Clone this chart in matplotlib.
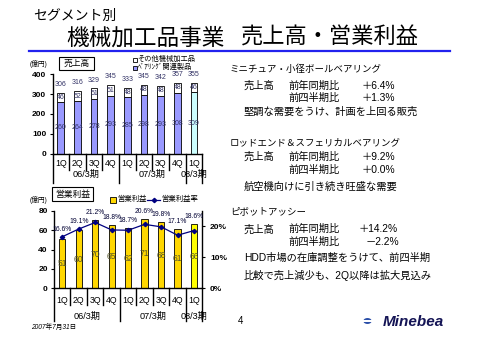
import numpy as np
import matplotlib
matplotlib.use('Agg')
import matplotlib.pyplot as plt
import matplotlib.transforms as mtransforms
from matplotlib.patches import Rectangle, Circle
from matplotlib.lines import Line2D

plt.rcParams['font.family'] = ['Liberation Sans', 'Noto Sans CJK JP']

# ---------------- data ----------------
quarters = ['1Q', '2Q', '3Q', '4Q', '1Q', '2Q', '3Q', '4Q', '1Q']
periods = ['06/3期', '07/3期', '08/3期']
period_pos = [1.5, 5.5, 8.0]
bearing_sales = [260, 264, 278, 293, 285, 298, 293, 308, 309]
other_sales = [46, 52, 51, 51, 48, 48, 48, 48, 46]
total_sales = [306, 316, 329, 345, 333, 345, 342, 357, 355]
op_income = [51, 60, 70, 65, 62, 71, 68, 61, 66]
op_margin = [16.6, 19.1, 21.2, 18.8, 18.7, 20.6, 19.8, 17.1, 18.6]
sales_ticks = [0, 100, 200, 300, 400]
income_ticks = [0, 20, 40, 60, 80]
margin_ticks = [0, 10, 20]

W, H = 480, 340
fig = plt.figure(figsize=(4.8, 3.4), dpi=100)
fig.patch.set_facecolor('white')


def fx(x):
    return x / W


def fy(y):
    return 1 - y / H


def ftext(x, y, s, **kw):
    kw.setdefault('va', 'center')
    kw.setdefault('ha', 'left')
    fig.text(fx(x), fy(y), s, **kw)


x = np.arange(len(quarters))

# ---------------- top chart: sales ----------------
t_left, t_right, t_top, t_bot = 52.5, 202.3, 74.3, 153.7
ax1 = fig.add_axes([fx(t_left), fy(t_bot), (t_right - t_left) / W, (t_bot - t_top) / H])
bear_colors = ['#9999FF'] * 8 + ['#CCFFFF']
ax1.bar(x, bearing_sales, width=0.4, color=bear_colors, edgecolor='black', lw=0.6, zorder=2)
ax1.bar(x, other_sales, bottom=bearing_sales, width=0.4, color='white', edgecolor='black',
        lw=0.6, zorder=2)
for i in range(len(x)):
    ax1.text(x[i], bearing_sales[i] / 2, str(bearing_sales[i]), ha='center', va='center',
             fontsize=5, color='#333366', zorder=3)
    ax1.text(x[i], bearing_sales[i] + other_sales[i] / 2, str(other_sales[i]), ha='center',
             va='center', fontsize=5, color='#333366', zorder=3)
    ax1.annotate(str(total_sales[i]), (x[i], total_sales[i]), xytext=(0, 6),
                 textcoords='offset points', ha='center', va='center', fontsize=5,
                 color='#333366')
ax1.set_xlim(-0.5, len(x) - 0.5)
ax1.set_ylim(0, 400)
ax1.set_yticks(sales_ticks)
ax1.set_xticks([])
ax1.tick_params(axis='y', length=2.5, width=0.8, pad=2, labelsize=6)
for lbl in ax1.get_yticklabels():
    lbl.set_fontweight('bold')
for s in ['top', 'right']:
    ax1.spines[s].set_visible(False)
for s in ['left', 'bottom']:
    ax1.spines[s].set_linewidth(1.0)

# ---------------- bottom chart: operating income ----------------
b_left, b_right, b_top, b_bot = 54.0, 202.3, 210.7, 288.3
ax2 = fig.add_axes([fx(b_left), fy(b_bot), (b_right - b_left) / W, (b_bot - b_top) / H])
inc_colors = ['#FFD700'] * 8 + ['#FFFF00']
ax2.bar(x, op_income, width=0.38, color=inc_colors, edgecolor='black', lw=0.6, zorder=2)
for i in range(len(x)):
    ax2.text(x[i], op_income[i] / 2, str(op_income[i]), ha='center', va='center',
             fontsize=6.2, color='#55552B', zorder=3)
ax2.set_xlim(-0.5, len(x) - 0.5)
ax2.set_ylim(0, 80)
ax2.set_yticks(income_ticks)
ax2.set_xticks([])
ax2.tick_params(axis='y', length=2.5, width=0.8, pad=2, labelsize=6)
for lbl in ax2.get_yticklabels():
    lbl.set_fontweight('bold')
for s in ['top', 'right']:
    ax2.spines[s].set_visible(False)
for s in ['left', 'bottom']:
    ax2.spines[s].set_linewidth(1.0)

ax2r = ax2.twinx()
ax2r.set_ylim(0, 25)
ax2r.plot(x, op_margin, color='#000080', lw=0.9, marker='D', ms=2.2, zorder=4)
ax2r.set_yticks(margin_ticks)
ax2r.set_yticklabels([f'{t}%' for t in margin_ticks])
ax2r.tick_params(axis='y', length=2.5, width=0.8, pad=3, labelsize=6)
for lbl in ax2r.get_yticklabels():
    lbl.set_fontweight('bold')
for s in ['top', 'left', 'bottom']:
    ax2r.spines[s].set_visible(False)
ax2r.spines['right'].set_linewidth(1.0)
scale = ax2.get_ylim()[1] / ax2r.get_ylim()[1]
for i in range(len(x)):
    ytop = max(op_income[i], op_margin[i] * scale)
    ax2r.annotate(f'{op_margin[i]:.1f}%', (x[i], ytop / scale), xytext=(0, 5.5),
                  textcoords='offset points', ha='center', va='center', fontsize=4.9,
                  color='#000033')


# ---------------- category tables ----------------
def draw_table(ax, h_px, inner_px, group_px, row1_px, row2_px):
    tr = mtransforms.blended_transform_factory(ax.transData, ax.transAxes)
    n = len(quarters)
    groups = [-0.5, 3.5, 7.5, n - 0.5]
    for b in np.arange(-0.5, n, 1.0):
        depth = group_px if b in groups else inner_px
        ax.add_line(Line2D([b, b], [0, -depth / h_px], transform=tr, color='black',
                           lw=1.0, clip_on=False))
    for i, q in enumerate(quarters):
        ax.text(i, -row1_px / h_px, q, transform=tr, ha='center', va='center',
                fontsize=6.3)
    for p, pos in zip(periods, period_pos):
        ax.text(pos, -row2_px / h_px, p, transform=tr, ha='center', va='center',
                fontsize=6.6)


draw_table(ax1, t_bot - t_top, 16, 29, 9.6, 20.5)
draw_table(ax2, b_bot - b_top, 17, 33, 12.4, 28.4)

# ---------------- chart decorations ----------------
fig.add_artist(Rectangle((fx(59), fy(70)), 34.5 / W, 13 / H, transform=fig.transFigure,
                         fc='white', ec='black', lw=0.8))
ftext(76.2, 63.6, '売上高', ha='center', fontsize=6.3)
fig.add_artist(Rectangle((fx(52), fy(200.7)), 41 / W, 13.7 / H, transform=fig.transFigure,
                         fc='white', ec='black', lw=0.8))
ftext(72.5, 194, '営業利益', ha='center', fontsize=6.3)

ftext(30, 64, '(億円)', fontsize=4.8)
ftext(30, 200.5, '(億円)', fontsize=4.8)

# top legend
fig.add_artist(Rectangle((fx(132.5), fy(61.5)), 4 / W, 4 / H, transform=fig.transFigure,
                         fc='white', ec='black', lw=0.6))
ftext(137.5, 59.5, 'その他機械加工品', fontsize=5.2)
fig.add_artist(Rectangle((fx(132.5), fy(69.7)), 4 / W, 4 / H, transform=fig.transFigure,
                         fc='#9999FF', ec='black', lw=0.6))
ftext(137.5, 67.7, 'ﾍﾞｱﾘﾝｸﾞ関連製品', fontsize=5.2)

# bottom legend
fig.add_artist(Rectangle((fx(109.5), fy(202.5)), 6 / W, 5.5 / H, transform=fig.transFigure,
                         fc='#FFD700', ec='black', lw=0.6))
ftext(117, 199.7, '営業利益', fontsize=5.3)
fig.add_artist(Line2D([fx(147), fx(160)], [fy(199.7), fy(199.7)], transform=fig.transFigure,
                      color='#000080', lw=0.9))
fig.add_artist(Line2D([fx(153.5)], [fy(199.7)], transform=fig.transFigure,
                      color='#000080', marker='D', ms=2.2))
ftext(161.5, 199.7, '営業利益率', fontsize=5.3)

# ---------------- titles ----------------
ftext(33, 16, 'セグメント別', fontsize=10)
ftext(66, 38, '機械加工品事業', fontsize=16.3)
ftext(241, 38, '売上高・営業利益', fontsize=16.0)
fig.add_artist(Line2D([fx(29), fx(450)], [fy(51), fy(51)], transform=fig.transFigure,
                      color='#2222EE', lw=1.6))

# ---------------- right-side commentary ----------------
hs, bs = 6.8, 7.4
ftext(230, 69, 'ミニチュア・小径ボールベアリング', fontsize=hs)
ftext(244, 85.7, '売上高', fontsize=bs)
ftext(288, 85.7, '前年同期比', fontsize=bs)
ftext(362, 85.7, '＋6.4%', fontsize=bs)
ftext(288, 97.7, '前四半期比', fontsize=bs)
ftext(362, 97.7, '＋1.3%', fontsize=bs)
ftext(244, 111.7, '堅調な需要をうけ、計画を上回る販売', fontsize=bs)

ftext(230, 142.3, 'ロッドエンド＆スフェリカルベアリング', fontsize=hs)
ftext(244, 156.7, '売上高', fontsize=bs)
ftext(288, 156.7, '前年同期比', fontsize=bs)
ftext(362, 156.7, '＋9.2%', fontsize=bs)
ftext(288, 170, '前四半期比', fontsize=bs)
ftext(362, 170, '＋0.0%', fontsize=bs)
ftext(244, 186.7, '航空機向けに引き続き旺盛な需要', fontsize=bs)

ftext(230, 211.7, 'ピボットアッシー', fontsize=hs)
ftext(244, 229.3, '売上高', fontsize=bs)
ftext(288, 229.3, '前年同期比', fontsize=bs)
ftext(359, 229.3, '＋14.2%', fontsize=bs)
ftext(288, 242.3, '前四半期比', fontsize=bs)
ftext(366, 242.3, '－2.2%', fontsize=bs)
ftext(244, 257.7, 'HDD市場の在庫調整をうけて、前四半期', fontsize=bs)
ftext(244, 275, '比較で売上減少も、2Q以降は拡大見込み', fontsize=bs)

# ---------------- footer ----------------
ftext(31, 327.5, '2007年7月31日', fontsize=4.8, style='italic')
ftext(238, 321, '4', fontsize=7)
fig.add_artist(Circle((fx(367.5), fy(321)), 4.2 / W, transform=fig.transFigure,
                      fc='#2B4FA8', ec='none'))
fig.add_artist(Rectangle((fx(363), fy(322)), 9 / W, 2.2 / H, transform=fig.transFigure,
                         fc='white', ec='none'))
ftext(383, 322, 'Minebea', fontsize=11, fontweight='bold', style='italic', color='#141455')

fig.savefig('out.png', dpi=100)
